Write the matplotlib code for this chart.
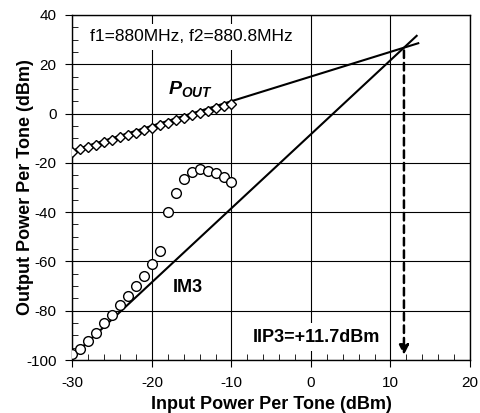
import matplotlib.pyplot as plt
import numpy as np

plt.rcParams['font.family'] = ['Liberation Sans', 'DejaVu Sans']
plt.rcParams['axes.unicode_minus'] = False
plt.rcParams['mathtext.fontset'] = 'custom'
plt.rcParams['mathtext.it'] = 'Liberation Sans:italic:bold'
plt.rcParams['mathtext.rm'] = 'Liberation Sans:bold'

# Datos medidos
pin = [-30, -29, -28, -27, -26, -25, -24, -23, -22, -21, -20,
       -19, -18, -17, -16, -15, -14, -13, -12, -11, -10]
pout = [-15.5, -14.5, -13.6, -12.6, -11.6, -10.7, -9.7, -8.7, -7.7, -6.7, -5.7,
        -4.7, -3.8, -2.8, -1.8, -0.8, 0.2, 1.2, 2.2, 3.2, 4.0]
im3 = [-97.6, -95.3, -92.3, -88.8, -85.1, -81.5, -77.7, -73.9, -70.0, -65.8, -61.2,
       -55.7, -40.1, -32.4, -26.7, -23.6, -22.6, -23.2, -24.2, -25.6, -27.7]

# Rectas de extrapolacion
fit_x = [-30, 13.5]
pout_fit = [-15.0, 28.5]
im3_x = [-30, 13.3]
im3_fit = [-98.4, 31.5]
iip3 = 11.7
oip3 = 26.7

fig = plt.figure(figsize=(4.8, 4.13), dpi=100)
ax = fig.add_axes([0.151, 0.128, 0.828, 0.836])

ax.plot(fit_x, pout_fit, color='black', lw=1.5, zorder=3)
ax.plot(im3_x, im3_fit, color='black', lw=1.5, zorder=3)
ax.plot(pin, pout, linestyle='none', marker='D', markersize=5.5, mfc='white',
        mec='black', mew=1.0, zorder=4)
ax.plot(pin, im3, linestyle='none', marker='o', markersize=7, mfc='white',
        mec='black', mew=1.0, zorder=4)

# Flecha IIP3
ax.annotate('', xy=(iip3, -99), xytext=(iip3, oip3),
            arrowprops=dict(arrowstyle='-|>', linestyle=(0, (3, 2)), lw=1.8,
                            color='black', mutation_scale=14), zorder=5)

ax.set_xlim(-30, 20)
ax.set_ylim(-100, 40)
ax.set_xticks(np.arange(-30, 21, 10))
ax.set_yticks(np.arange(-100, 41, 20))
ax.set_xticks(np.arange(-30, 21, 2), minor=True)
ax.set_yticks(np.arange(-100, 41, 5), minor=True)
ax.grid(True, which='major', color='black', lw=0.8)
ax.set_axisbelow(True)
ax.tick_params(which='major', direction='out', length=5, labelsize=11, pad=6.5)
ax.tick_params(which='minor', direction='in', length=4)
for s in ax.spines.values():
    s.set_linewidth(1.0)

ax.set_xlabel('Input Power Per Tone (dBm)', fontsize=13, fontweight='bold', labelpad=4)
ax.set_ylabel('Output Power Per Tone (dBm)', fontsize=13, fontweight='bold')
ax.yaxis.set_label_coords(-0.097, 0.5)

box = dict(facecolor='white', edgecolor='none', pad=4)
ax.text(-27.8, 31.1, 'f1=880MHz, f2=880.8MHz', fontsize=12.5, va='center', ha='left',
        bbox=box, zorder=2.5)
ax.text(-15.2, 10.0, r'$P_{OUT}$', fontsize=14, ha='center', va='center')
ax.text(-15.5, -70.4, 'IM3', fontsize=13, fontweight='bold', ha='center', va='center')
ax.text(0.7, -90.7, 'IIP3=+11.7dBm', fontsize=13, fontweight='bold', ha='center',
        va='center', bbox=box, zorder=2.5)

fig.savefig('out.png', dpi=100)
